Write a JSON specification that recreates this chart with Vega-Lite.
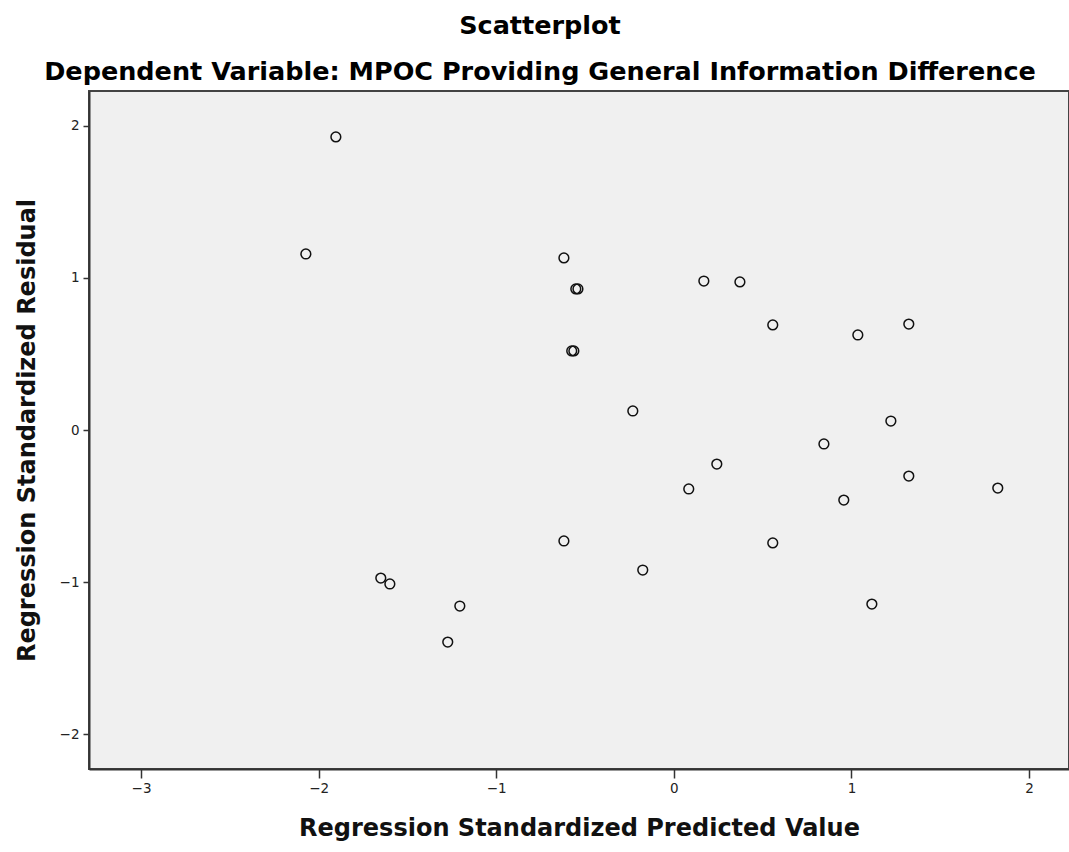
{
  "$schema": "https://vega.github.io/schema/vega-lite/v6.json",
  "autosize": "none",
  "width": 980,
  "height": 678,
  "padding": {"left": 89, "top": 91, "right": 0, "bottom": 83},
  "background": "white",
  "title": {
    "text": ["Scatterplot", "Dependent Variable: MPOC Providing General Information Difference"],
    "font": "DejaVu Sans",
    "fontSize": 25.5,
    "fontWeight": "bold",
    "lineHeight": 46,
    "color": "black",
    "anchor": "middle",
    "dx": -39,
    "offset": 6
  },
  "config": {
    "view": {"fill": "#f0f0f0", "stroke": "#444444", "strokeWidth": 2},
    "axis": {
      "grid": false,
      "domainColor": "#333333",
      "domainWidth": 2,
      "tickColor": "#333333",
      "tickWidth": 1.5,
      "labelFont": "DejaVu Sans",
      "labelFontSize": 13.5,
      "labelColor": "#222222",
      "titleFont": "DejaVu Sans",
      "titleFontSize": 24,
      "titleFontWeight": "bold",
      "titleColor": "#111111"
    }
  },
  "data": {
    "values": [
      {"pred": -1.903, "resid": 1.928},
      {"pred": -2.072, "resid": 1.158},
      {"pred": -0.619, "resid": 1.132},
      {"pred": -0.552, "resid": 0.928},
      {"pred": -0.540, "resid": 0.928},
      {"pred": -0.575, "resid": 0.520},
      {"pred": -0.563, "resid": 0.520},
      {"pred": 0.169, "resid": 0.980},
      {"pred": 0.372, "resid": 0.974},
      {"pred": 0.557, "resid": 0.691},
      {"pred": 1.036, "resid": 0.625},
      {"pred": 1.323, "resid": 0.697},
      {"pred": -0.231, "resid": 0.125},
      {"pred": 1.222, "resid": 0.059},
      {"pred": 0.845, "resid": -0.092},
      {"pred": 0.242, "resid": -0.224},
      {"pred": 0.084, "resid": -0.388},
      {"pred": 0.957, "resid": -0.461},
      {"pred": 1.323, "resid": -0.303},
      {"pred": 1.824, "resid": -0.382},
      {"pred": -0.619, "resid": -0.730},
      {"pred": 0.557, "resid": -0.743},
      {"pred": -0.175, "resid": -0.921},
      {"pred": -1.650, "resid": -0.974},
      {"pred": -1.599, "resid": -1.013},
      {"pred": -1.205, "resid": -1.158},
      {"pred": 1.115, "resid": -1.145},
      {"pred": -1.273, "resid": -1.395}
    ]
  },
  "mark": {"type": "point", "shape": "circle", "filled": false, "stroke": "#111111", "strokeWidth": 1.5, "size": 95, "opacity": 1},
  "encoding": {
    "x": {
      "field": "pred",
      "type": "quantitative",
      "scale": {"domain": [-3.293, 2.225], "nice": false, "zero": false},
      "axis": {"values": [-3, -2, -1, 0, 1, 2], "tickSize": 9, "labelPadding": 3, "title": "Regression Standardized Predicted Value", "titlePadding": 22}
    },
    "y": {
      "field": "resid",
      "type": "quantitative",
      "scale": {"domain": [-2.23, 2.23], "nice": false, "zero": false},
      "axis": {"values": [-2, -1, 0, 1, 2], "tickSize": 6, "labelPadding": 4, "title": "Regression Standardized Residual", "titlePadding": 20}
    }
  }
}
